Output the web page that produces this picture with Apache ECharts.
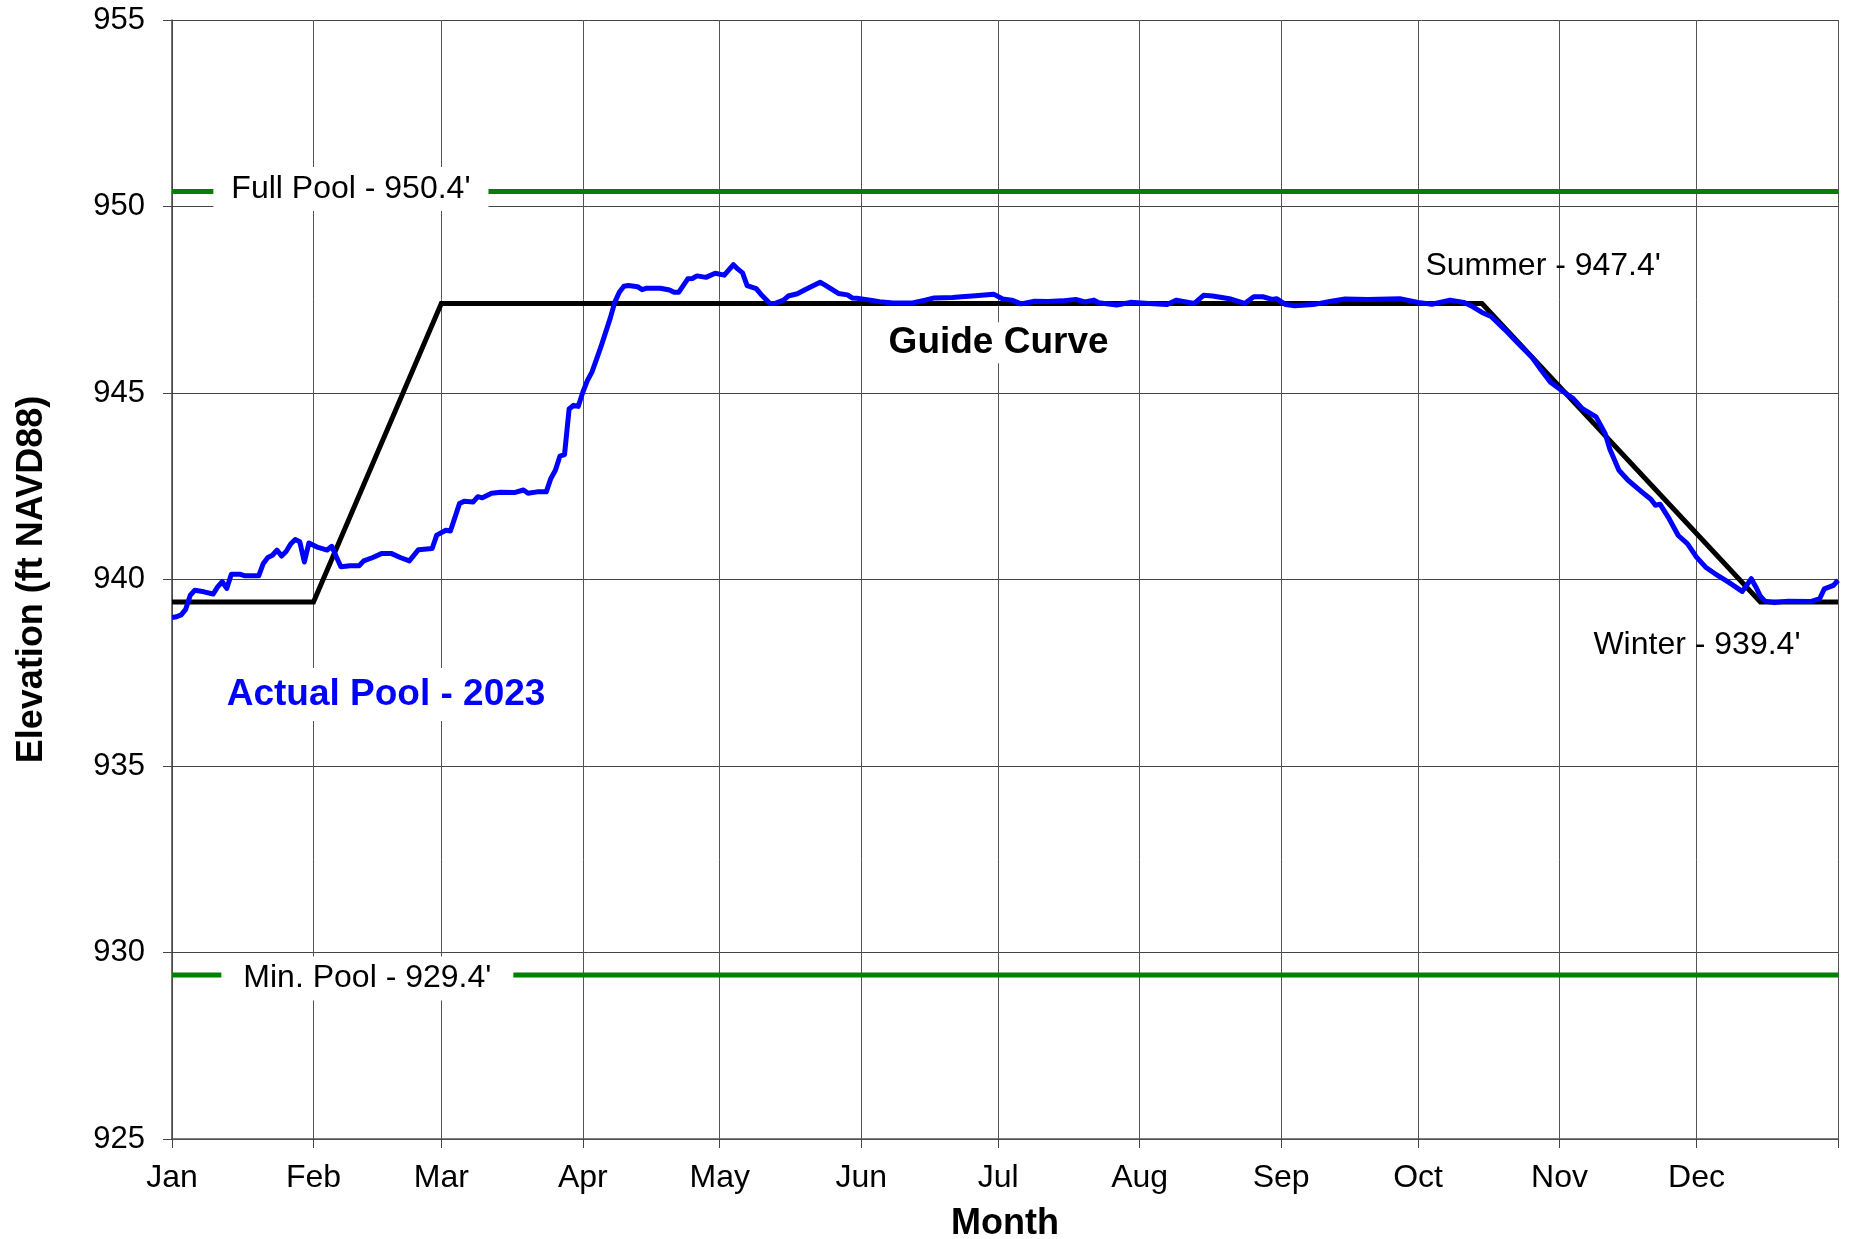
<!DOCTYPE html>
<html>
<head>
<meta charset="utf-8">
<title>Pool Elevation 2023</title>
<script src="https://cdn.jsdelivr.net/npm/echarts@6/dist/echarts.min.js"></script>
<style>
  html, body { margin: 0; padding: 0; background: #fff; }
  #chart { width: 1849px; height: 1239px; }
</style>
</head>
<body>
<div id="chart"></div>
<script>
// month ticks (day of year, Jan 1 = 0)
var monthNames = ['Jan', 'Feb', 'Mar', 'Apr', 'May', 'Jun', 'Jul', 'Aug', 'Sep', 'Oct', 'Nov', 'Dec'];
var monthStartDays = [0, 31, 59, 90, 120, 151, 181, 212, 243, 273, 304, 334];
var yearEndDay = 365;

// guide curve
var guideDays = [0, 31, 59, 287, 348, 365];
var guideLevels = [939.4, 939.4, 947.4, 947.4, 939.4, 939.4];

// pool limits
var fullPool = 950.4;
var minPool = 929.4;

// actual pool 2023
var actualDays = [0, 1, 2, 3, 4, 5, 7, 9, 10, 11, 12, 13, 15, 16, 19, 20, 21, 22, 23, 24,
  25, 26, 27, 28, 29, 30, 32, 34, 35, 36, 37, 39, 41, 42, 44, 46, 48, 50, 52, 54,
  57, 58, 60, 61, 63, 64, 66, 67, 68, 70, 72, 75, 77, 78, 80, 82, 83, 84, 85, 86,
  87, 88, 89, 90, 91, 92, 93, 94, 96, 97, 98, 99, 100, 102, 103, 104, 107, 109, 110, 111,
  113, 114, 115, 117, 119, 121, 122, 123, 124, 125, 126, 128, 129, 131, 132, 134, 135, 137, 139, 142,
  143, 146, 148, 149, 150, 153, 155, 158, 162, 165, 167, 171, 173, 176, 180, 182, 184, 186, 189, 192,
  195, 198, 200, 202, 203, 207, 210, 214, 218, 220, 224, 226, 228, 232, 235, 237, 239, 241, 242, 244,
  246, 250, 254, 257, 262, 269, 273, 276, 280, 283, 285, 287, 289, 292, 295, 298, 300, 302, 305, 307,
  309, 312, 314, 315, 317, 319, 322, 324, 325, 326, 328, 330, 332, 334, 336, 338, 341, 344, 345, 346,
  347, 348, 349, 351, 354, 359, 361, 362, 364, 365];
var actualLevels = [938.98, 939.0, 939.05, 939.2, 939.58, 939.71, 939.67, 939.61, 939.8, 939.94, 939.76, 940.14, 940.14, 940.1, 940.1, 940.43, 940.59, 940.65, 940.79, 940.63,
  940.75, 940.95, 941.07, 941.01, 940.47, 940.98, 940.86, 940.79, 940.89, 940.61, 940.34, 940.37, 940.37, 940.5, 940.59, 940.7, 940.7, 940.59, 940.5, 940.8,
  940.83, 941.19, 941.32, 941.3, 942.04, 942.1, 942.08, 942.22, 942.19, 942.31, 942.34, 942.33, 942.4, 942.31, 942.35, 942.35, 942.71, 942.93, 943.31, 943.35,
  944.57, 944.67, 944.64, 945.02, 945.33, 945.56, 945.9, 946.25, 947.0, 947.43, 947.7, 947.86, 947.88, 947.85, 947.77, 947.81, 947.81, 947.76, 947.7, 947.7,
  948.06, 948.07, 948.14, 948.1, 948.21, 948.16, 948.3, 948.44, 948.32, 948.22, 947.88, 947.8, 947.65, 947.4, 947.4, 947.49, 947.6, 947.66, 947.79, 947.97,
  947.9, 947.67, 947.63, 947.55, 947.54, 947.49, 947.45, 947.41, 947.41, 947.49, 947.55, 947.56, 947.58, 947.61, 947.65, 947.52, 947.49, 947.39, 947.46, 947.45,
  947.47, 947.51, 947.44, 947.49, 947.42, 947.36, 947.43, 947.4, 947.37, 947.49, 947.4, 947.62, 947.6, 947.52, 947.4, 947.58, 947.58, 947.51, 947.53, 947.37,
  947.34, 947.37, 947.46, 947.52, 947.51, 947.53, 947.43, 947.38, 947.49, 947.43, 947.31, 947.16, 947.05, 946.7, 946.32, 945.95, 945.61, 945.29, 945.02, 944.85,
  944.58, 944.36, 943.91, 943.5, 942.93, 942.66, 942.35, 942.15, 941.99, 942.02, 941.63, 941.18, 940.96, 940.6, 940.33, 940.16, 939.93, 939.68, 939.85, 940.02,
  939.8, 939.55, 939.42, 939.38, 939.42, 939.41, 939.49, 939.75, 939.84, 939.98];

// text notes on the chart
var noteTexts = ["Full Pool - 950.4'", "Min. Pool - 929.4'", "Summer - 947.4'", "Winter - 939.4'", "Guide Curve", "Actual Pool - 2023"];
var noteDays = [39.2, 42.8, 300.4, 334.1, 181.1, 46.9];
var noteLevels = [950.47, 929.3, 948.4, 938.25, 946.35, 936.92];

var FONT = 'Arial, "Liberation Sans", sans-serif';

function pairs(xs, ys) {
  var out = [];
  for (var i = 0; i < xs.length; i++) out.push([xs[i], ys[i]]);
  return out;
}

function noteLabel(i) {
  var base = { show: true, position: 'inside', fontFamily: FONT, color: '#000', fontSize: 32, opacity: 1 };
  if (i === 0) { base.backgroundColor = '#fff'; base.padding = [6, 18]; }
  if (i === 1) { base.backgroundColor = '#fff'; base.padding = [6, 22]; }
  if (i === 4) { base.fontWeight = 'bold'; base.fontSize = 37; base.backgroundColor = '#fff'; base.padding = [2, 4]; }
  if (i === 5) { base.fontWeight = 'bold'; base.fontSize = 37; base.color = '#0000ff'; base.backgroundColor = '#fff'; base.padding = [8, 6]; }
  base.formatter = noteTexts[i];
  return base;
}

var notes = [];
for (var i = 0; i < noteTexts.length; i++) {
  notes.push({ value: [noteDays[i], noteLevels[i]], label: noteLabel(i) });
}

var chart = echarts.init(document.getElementById('chart'));
var option = {
  backgroundColor: '#fff',
  animation: false,
  grid: { left: 172, right: 11, top: 20, bottom: 100, containLabel: false, outerBoundsMode: 'none' },
  xAxis: {
    type: 'value',
    min: 0,
    max: yearEndDay,
    name: 'Month',
    nameLocation: 'middle',
    nameGap: 67,
    nameTextStyle: { fontFamily: FONT, fontSize: 36, fontWeight: 'bold', color: '#000' },
    axisLine: { show: true, lineStyle: { color: '#555', width: 1.5 } },
    axisTick: { show: true, length: 9, customValues: monthStartDays.concat([yearEndDay]), lineStyle: { color: '#444' } },
    axisLabel: {
      customValues: monthStartDays,
      margin: 23,
      fontFamily: FONT, fontSize: 32, color: '#000',
      formatter: function (v) {
        var k = monthStartDays.indexOf(v);
        return k >= 0 ? monthNames[k] : '';
      }
    },
    splitLine: { show: true, lineStyle: { color: '#555', width: 1 } }
  },
  yAxis: {
    type: 'value',
    min: 925,
    max: 955,
    interval: 5,
    name: 'Elevation (ft NAVD88)',
    nameLocation: 'middle',
    nameGap: 122,
    nameTextStyle: { fontFamily: FONT, fontSize: 36, fontWeight: 'bold', color: '#000' },
    axisLine: { show: true, lineStyle: { color: '#444', width: 1.5 } },
    axisTick: { show: true, length: 9, lineStyle: { color: '#444' } },
    axisLabel: { margin: 27, fontFamily: FONT, fontSize: 31, color: '#000' },
    splitLine: { show: true, lineStyle: { color: '#444', width: 1 } }
  },
  series: [
    {
      name: 'Full Pool', type: 'line', symbol: 'none', silent: true,
      lineStyle: { color: '#008000', width: 5 },
      data: [[0, fullPool], [yearEndDay, fullPool]], z: 2
    },
    {
      name: 'Min Pool', type: 'line', symbol: 'none', silent: true,
      lineStyle: { color: '#008000', width: 5 },
      data: [[0, minPool], [yearEndDay, minPool]], z: 2
    },
    {
      name: 'Guide Curve', type: 'line', symbol: 'none', silent: true,
      lineStyle: { color: '#000', width: 5, join: 'miter' },
      data: pairs(guideDays, guideLevels), z: 3
    },
    {
      name: 'Actual Pool', type: 'line', symbol: 'none', silent: true,
      lineStyle: { color: '#0000ff', width: 5, join: 'round' },
      data: pairs(actualDays, actualLevels), z: 4
    },
    {
      name: 'notes', type: 'scatter', symbolSize: 0, silent: true,
      itemStyle: { opacity: 1, color: 'rgba(0,0,0,0)' },
      emphasis: { disabled: true },
      data: notes, z: 5
    }
  ]
};
chart.setOption(option);
</script>
</body>
</html>
